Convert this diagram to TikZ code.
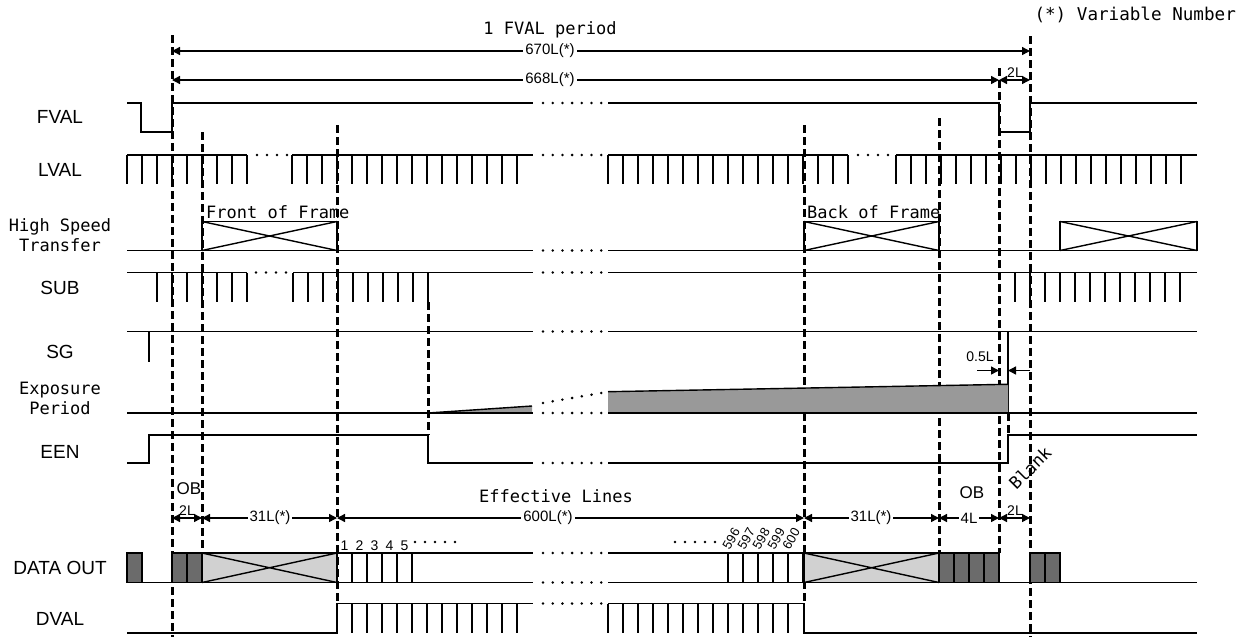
\documentclass[tikz,border=0pt]{standalone}
\usepackage{fontspec}
\setmainfont{Liberation Sans}
\newfontfamily\monofont{DejaVu Sans Mono}
\usetikzlibrary{arrows.meta}
\definecolor{darkgr}{gray}{0.42}
\definecolor{lightgr}{gray}{0.82}
\definecolor{expgr}{gray}{0.6}
% row of small dots: start x, count, step, y
\newcommand{\dotrow}[4]{\foreach \k in {1,...,#2} \fill ({#1+#3*(\k-1)},#4) circle (1.4pt);}
\begin{document}
\begin{tikzpicture}[x=1pt,y=-1pt,
	sig/.style={line width=1.8pt},
	tck/.style={line width=1.4pt},
	guide/.style={line width=3pt,dash pattern=on 8pt off 4pt},
	dim/.style={line width=1.4pt,{Triangle[length=8pt,width=8pt]}-{Triangle[length=8pt,width=8pt]}},
	lab/.style={font=\fontsize{19}{22}\selectfont},
	mlab/.style={font=\monofont\fontsize{17}{20}\selectfont,align=center},
	num/.style={font=\fontsize{15}{17}\selectfont,fill=white,inner sep=2pt},
	cellnum/.style={font=\fontsize{14}{16}\selectfont,inner sep=1pt}]
	\useasboundingbox (0,0) rectangle (1239,637);
	% labels
	\node[lab] (fval) at (60,117) {FVAL};
	\node[lab] (lval) at (60,170) {LVAL};
	\node[mlab] (hst) at (60,235.5) {High Speed\\Transfer};
	\node[lab] (sub) at (60,288) {SUB};
	\node[lab] (sg) at (60,352) {SG};
	\node[mlab] (expo) at (60,398) {Exposure\\Period};
	\node[lab] (een) at (60,452) {EEN};
	\node[lab] (dout) at (60,568) {DATA OUT};
	\node[lab] (dval) at (60,619) {DVAL};
	% guides
	\draw[guide] (172,35) -- (172,637);
	\draw[guide] (202,132) -- (202,553);
	\draw[guide] (337,125) -- (337,603.5);
	\draw[guide] (428,302) -- (428,435);
	\draw[guide] (804,125) -- (804,603.5);
	\draw[guide] (939,118) -- (939,553);
	\draw[guide] (999,68) -- (999,553);
	\draw[guide] (1008,413) -- (1008,435);
	\draw[guide] (1030,36) -- (1030,637);
	% top dimensions
	\node[mlab,anchor=base] (title) at (550,34) {1 FVAL period};
	\node[mlab,anchor=base west,font=\monofont\fontsize{17.6}{20}\selectfont] (note) at (1031,20) {(*) Variable Number};
	\draw[dim] (172,51) -- (1030,51);
	\node[num] (n670) at (550,51) {670L(*)};
	\draw[dim] (172,80) -- (999,80);
	\node[num] (n668) at (550,80) {668L(*)};
	\draw[dim] (999,80) -- (1030,80);
	\node[cellnum,anchor=south] (n2a) at (1015,79) {2L};
	% FVAL
	\draw[sig] (127,103) -- (141,103) -- (141,132) -- (172,132) -- (172,103) -- (533,103);
	\dotrow{543}{7}{9.7}{103}
	\draw[sig] (608,103) -- (999,103) -- (999,132) -- (1030,132) -- (1030,103) -- (1197,103);
	% LVAL
	\draw[sig] (127,155) -- (247,155);
	\foreach \x in {127,142,...,247} \draw[tck] (\x,155) -- (\x,184);
	\dotrow{257}{4}{10}{155}
	\draw[sig] (292,155) -- (533,155);
	\foreach \x in {292,307,...,517} \draw[tck] (\x,155) -- (\x,184);
	\dotrow{543}{7}{9.7}{155}
	\draw[sig] (608,155) -- (848,155);
	\foreach \x in {608,623,...,848} \draw[tck] (\x,155) -- (\x,184);
	\dotrow{858}{4}{10}{155}
	\draw[sig] (896,155) -- (1197,155);
	\foreach \x in {896,911,...,1181} \draw[tck] (\x,155) -- (\x,184);
	% High Speed Transfer
	\draw[sig] (127,250.5) -- (533,250.5);
	\dotrow{543}{7}{9.7}{250.5}
	\draw[sig] (608,250.5) -- (1197,250.5);
	\foreach \a/\b in {202/337,804/939,1060/1197} {
		\draw[sig] (\a,221.5) rectangle (\b,250.5);
		\draw[tck] (\a,221.5) -- (\b,250.5) (\a,250.5) -- (\b,221.5);
	}
	\node[mlab,anchor=base west,inner sep=1pt] (fof) at (205,218.5) {Front of Frame};
	\node[mlab,anchor=base west,inner sep=1pt] (bof) at (806,218.5) {Back of Frame};
	% SUB
	\draw[sig] (127,272.5) -- (247,272.5);
	\foreach \x in {157,172,...,247} \draw[tck] (\x,272.5) -- (\x,302);
	\dotrow{256}{4}{10}{272.5}
	\draw[sig] (293,272.5) -- (533,272.5);
	\foreach \x in {293,308,...,428} \draw[tck] (\x,272.5) -- (\x,302);
	\dotrow{543}{7}{9.7}{272.5}
	\draw[sig] (608,272.5) -- (1197,272.5);
	\foreach \x in {1015,1030,...,1180} \draw[tck] (\x,272.5) -- (\x,302);
	% SG
	\draw[sig] (127,331.5) -- (533,331.5);
	\draw[tck] (149,331.5) -- (149,361.5);
	\dotrow{543}{7}{9.7}{331.5}
	\draw[sig] (608,331.5) -- (1197,331.5);
	\draw[tck] (1008,331.5) -- (1008,413);
	% 0.5L
	\draw[tck,-{Triangle[length=8pt,width=8pt]}] (977,370.5) -- (999,370.5);
	\draw[tck,-{Triangle[length=8pt,width=8pt]}] (1030,370.5) -- (1008,370.5);
	\node[cellnum] (n05) at (980,357) {0.5L};
	% Exposure Period
	\fill[expgr] (428,413) -- (532,406) -- (532,413) -- cycle;
	\draw[tck] (428,413) -- (532,406);
	\fill[expgr] (608,413) -- (608,391.7) -- (1008,384.3) -- (1008,413) -- cycle;
	\draw[tck] (608,391.7) -- (1008,384.3);
	\foreach \k in {0,...,6} \fill ({543+9.7*\k},{403-1.67*\k}) circle (1.4pt);
	\draw[sig] (127,413) -- (533,413);
	\dotrow{543}{7}{9.7}{413}
	\draw[sig] (608,413) -- (1197,413);
	% EEN
	\draw[sig] (127,463) -- (149,463) -- (149,435) -- (428,435) -- (428,463) -- (533,463);
	\dotrow{543}{7}{9.7}{463}
	\draw[sig] (608,463) -- (1008,463) -- (1008,435) -- (1197,435);
	% bottom dimensions
	\node[lab,font=\fontsize{17}{20}\selectfont] (oba) at (189,489) {OB};
	\node[lab,font=\fontsize{17}{20}\selectfont] (obb) at (972,493) {OB};
	\node[mlab,anchor=base] (eff) at (556,502) {Effective Lines};
	\node[mlab,rotate=45] (blank) at (1030,468) {Blank};
	\draw[dim] (172,518) -- (202,518);
	\node[cellnum,anchor=south] (n2b) at (187,517) {2L};
	\draw[dim] (202,518) -- (337,518);
	\node[num] (n31a) at (270,518) {31L(*)};
	\draw[dim] (337,518) -- (804,518);
	\node[num] (n600) at (548,518) {600L(*)};
	\draw[dim] (804,518) -- (939,518);
	\node[num] (n31b) at (871,518) {31L(*)};
	\draw[dim] (939,518) -- (999,518);
	\node[num] (n4) at (969,518) {4L};
	\draw[dim] (999,518) -- (1030,518);
	\node[cellnum,anchor=south] (n2c) at (1015,517) {2L};
	% DATA OUT
	\draw[sig] (127,582.5) -- (533,582.5);
	\dotrow{543}{7}{9.7}{582.5}
	\draw[sig] (608,582.5) -- (1197,582.5);
	\draw[sig] (412,553) -- (533,553);
	\dotrow{543}{7}{9.7}{553}
	\draw[sig] (608,553) -- (728,553);
	\foreach \x in {127,172,187,939,954,969,984,1030,1045}
		\filldraw[fill=darkgr,tck] (\x,553) rectangle +(15,29.5);
	\foreach \a/\b in {202/337,804/939} {
		\filldraw[fill=lightgr,tck] (\a,553) rectangle (\b,582.5);
		\draw[tck] (\a,553) -- (\b,582.5) (\a,582.5) -- (\b,553);
	}
	\foreach \x in {337,352,...,397,728,743,...,788} \draw[tck] (\x,553) rectangle +(15,29.5);
	\foreach \n in {1,...,5} \node[cellnum,anchor=base] (c\n) at ({344.5+15*(\n-1)},550) {\n};
	\dotrow{415}{5}{10}{542}
	\dotrow{675}{5}{10}{542}
	\foreach \n [count=\i from 0] in {596,...,600}
		\node[cellnum,font=\fontsize{13}{15}\selectfont,rotate=60,anchor=south west,inner sep=0.3pt] (c\n) at ({730+15*\i},551) {\n};
	% DVAL
	\draw[sig] (127,633) -- (337,633) -- (337,603.5) -- (533,603.5);
	\foreach \x in {352,367,...,517} \draw[tck] (\x,603.5) -- (\x,633);
	\dotrow{543}{7}{9.7}{603.5}
	\draw[sig] (608,603.5) -- (804,603.5) -- (804,633) -- (1197,633);
	\foreach \x in {608,623,...,788} \draw[tck] (\x,603.5) -- (\x,633);
\end{tikzpicture}
\end{document}
